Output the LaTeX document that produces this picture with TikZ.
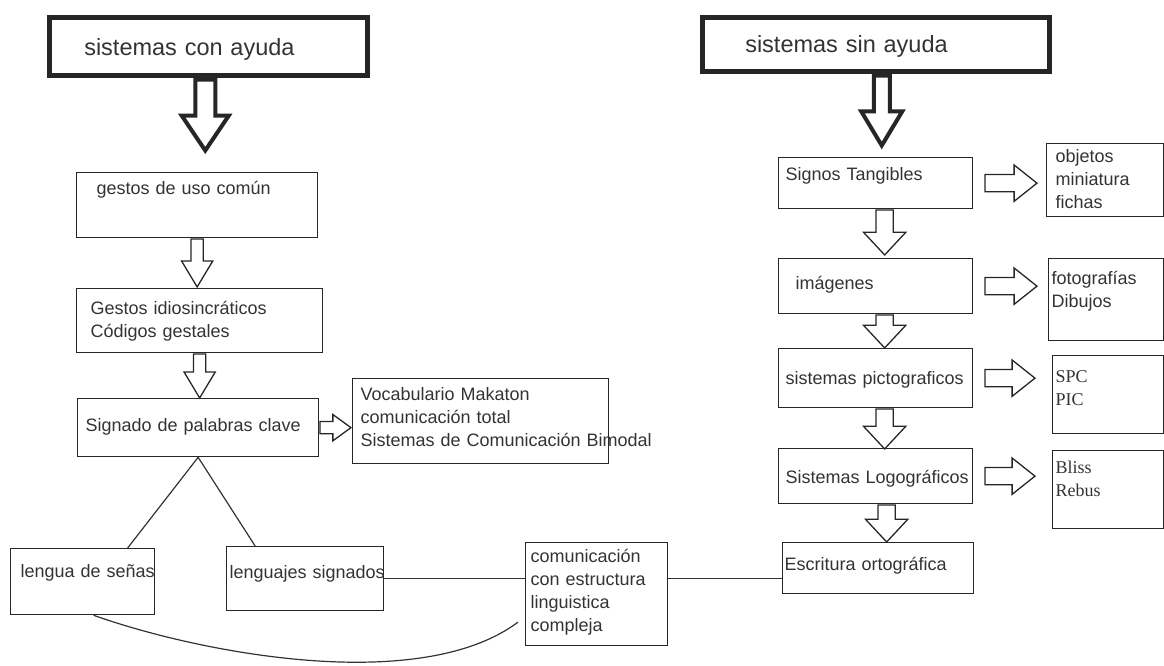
\documentclass[tikz,border=0pt]{standalone}
\usepackage{fontspec}
\setmainfont{Liberation Sans}
\newfontfamily\timesfont{Liberation Serif}
\usepackage{tikz}
\usetikzlibrary{shapes.arrows,calc}
\newcommand{\bodyfnt}{\fontsize{18}{23}\selectfont}
\newcommand{\headfnt}{\fontsize{23.5}{28}\selectfont}
\tikzset{%
	box/.style       = {draw=black!85, line width=1.3pt, rectangle, inner ysep=0pt, align=left, anchor=north west, text=black!80, font=\bodyfnt},
	headbox/.style   = {box, line width=4.5pt, font=\headfnt},
	downarrow/.style = {draw=black!85, line width=1.3pt, single arrow, single arrow head indent=0pt, inner xsep=0pt, anchor=tail, rotate=-90, inner ysep=5.5pt, single arrow head extend=9.5pt, single arrow tip angle=62},
	rdownarrow/.style= {downarrow, inner ysep=8pt, single arrow head extend=12.5pt, single arrow tip angle=86},
	sidearrow/.style = {draw=black!85, line width=1.3pt, single arrow, single arrow head indent=0pt, inner xsep=0pt, anchor=tail, inner ysep=8pt, single arrow head extend=9.5pt, single arrow tip angle=77},
	bigarrow/.style  = {downarrow, line width=4pt},
	link/.style      = {draw=black!80, line width=1.2pt},
}

\begin{document}
\begin{tikzpicture}[x=1pt,y=-1pt]
	\useasboundingbox (0,0) rectangle (1164,665);
	
	% sistemas con ayuda
	\node[headbox, inner xsep=35pt, text width=248pt, text height=38pt, text depth=20pt] (con) at (47,15) {sistemas con ayuda};
	\node[bigarrow, minimum height=71pt, inner ysep=8pt, single arrow head extend=13.5pt, single arrow tip angle=68] (acon) at ([xshift=-3pt]con.south) {};
	\node[box, inner xsep=20pt, text width=201pt, text height=22pt, text depth=43pt] (gestos) at (76,172) {gestos de uso común};
	\node[downarrow, minimum height=48pt] (agestos) at (gestos.south) {};
	\node[box, inner xsep=14pt, text width=218pt, text height=26pt, text depth=38pt] (idio) at (76,288) {Gestos idiosincráticos\\Códigos gestales};
	\node[downarrow, minimum height=44pt] (aidio) at (idio.south) {};
	\node[box, inner xsep=8pt, text width=225pt, text height=33pt, text depth=25pt] (signado) at (77,398) {Signado de palabras clave};
	\node[sidearrow, minimum height=31pt, inner ysep=5.5pt, single arrow head extend=7pt, single arrow tip angle=72] (asignado) at (signado.east) {};
	\node[box, inner xsep=8pt, text width=240pt, text height=22pt, text depth=63pt] (vocab) at (352,378) {Vocabulario Makaton\\comunicación total\\\mbox{Sistemas de Comunicación Bimodal}};
	\node[box, inner xsep=10pt, text width=124pt, text height=29pt, text depth=37pt] (lengua) at (10,548) {\mbox{lengua de señas}};
	\node[box, inner xsep=3pt, text width=151pt, text height=32pt, text depth=32pt] (lenguajes) at (226,546) {\mbox{lenguajes signados}};
	\node[box, inner xsep=5pt, text width=132pt, text height=20pt, text depth=83pt] (comm) at (525,542) {comunicación\\con estructura\\linguistica\\compleja};
	
	\draw[link] (signado.south) -- ([xshift=45pt]lengua.north);
	\draw[link] (signado.south) -- ([xshift=-50pt]lenguajes.north);
	\draw[link] (lenguajes.east) -- (lenguajes.east -| comm.west);
	\draw[link] ([xshift=11pt]lengua.south) .. controls +(107,38) and +(-98,73) .. ([xshift=-7pt,yshift=-28pt]comm.west);
	
	% sistemas sin ayuda
	\node[headbox, inner xsep=43pt, text width=261pt, text height=35pt, text depth=19pt] (sin) at (700,15) {sistemas sin ayuda};
	\node[bigarrow, minimum height=70pt, inner ysep=6pt, single arrow head extend=12.5pt, single arrow tip angle=62] (asin) at ([xshift=6pt]sin.south) {};
	\node[box, inner xsep=7pt, text width=180pt, text height=23pt, text depth=28pt] (tang) at (778,157) {Signos Tangibles};
	\node[sidearrow, minimum height=52pt] (atang) at ([xshift=11pt]tang.east) {};
	\node[box, inner xsep=9pt, text width=99pt, text height=19pt, text depth=54pt] (objetos) at (1046,143) {objetos\\miniatura\\fichas};
	\node[rdownarrow, minimum height=45pt] (atangd) at ([xshift=9pt]tang.south) {};
	\node[box, inner xsep=17pt, text width=160pt, text height=31pt, text depth=24pt] (imag) at (778,258) {imágenes};
	\node[sidearrow, minimum height=52pt] (aimag) at ([xshift=11pt]imag.east) {};
	\node[box, inner xsep=3pt, text width=109pt, text height=26pt, text depth=56pt] (foto) at (1048,258) {fotografías\\Dibujos};
	\node[rdownarrow, minimum height=33pt] (aimagd) at ([xshift=9pt]imag.south) {};
	\node[box, inner xsep=7pt, text width=180pt, text height=36pt, text depth=23pt] (picto) at (778,348) {\mbox{sistemas pictograficos}};
	\node[sidearrow, minimum height=50pt] (apicto) at ([xshift=11pt]picto.east) {};
	\node[box, inner xsep=3pt, text width=105pt, text height=27pt, text depth=51pt, font=\bodyfnt\timesfont] (spc) at (1052,355) {SPC\\PIC};
	\node[rdownarrow, minimum height=40pt] (apictod) at ([xshift=9pt]picto.south) {};
	\node[box, inner xsep=7pt, text width=180pt, text height=35pt, text depth=20pt] (logo) at (778,448) {\mbox{Sistemas Logográficos}};
	\node[sidearrow, minimum height=50pt] (alogo) at ([xshift=11pt]logo.east) {};
	\node[box, inner xsep=3pt, text width=105pt, text height=23pt, text depth=55pt, font=\bodyfnt\timesfont] (bliss) at (1052,450) {Bliss\\Rebus};
	\node[rdownarrow, minimum height=37pt] (alogod) at ([xshift=11pt]logo.south) {};
	\node[box, inner xsep=2pt, text width=187pt, text height=28pt, text depth=23pt] (esc) at (782,542) {Escritura ortográfica};
	
	\draw[link] (lenguajes.east -| comm.east) -- (lenguajes.east -| esc.west);
\end{tikzpicture}
\end{document}
